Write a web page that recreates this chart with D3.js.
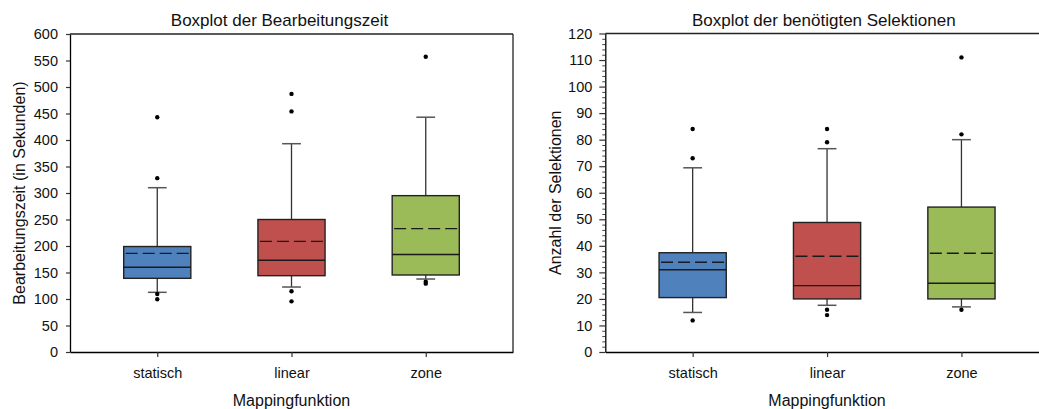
<!DOCTYPE html>
<html>
<head>
<meta charset="utf-8">
<script src="https://cdn.jsdelivr.net/npm/d3@7"></script>
<style>
  html, body { margin: 0; padding: 0; background: #fff; }
  svg { display: block; font-family: "Liberation Sans", Arial, sans-serif; }
</style>
</head>
<body>
<svg id="chart" width="1039" height="409"></svg>
<script>
// ---------- data ----------
const categories = ["statisch", "linear", "zone"];
const boxColors = ["#4F81BD", "#C0504D", "#9BBB59"];

// Chart 1: Bearbeitungszeit (seconds)
const timeWhiskerLow  = [112.6, 122.6, 137.7];
const timeQ1          = [139, 144, 145.3];
const timeMedian      = [160, 173, 184];
const timeMean        = [186, 208.8, 232.7];
const timeQ3          = [199, 250, 295];
const timeWhiskerHigh = [310, 393, 443];
const timeOutliers    = [[443, 328, 109.5, 99.5], [487, 454, 114.5, 95.6], [557, 132.7, 129]];
const timeTicks       = [0, 50, 100, 150, 200, 250, 300, 350, 400, 450, 500, 550, 600];

// Chart 2: benötigte Selektionen
const selWhiskerLow  = [14.9, 17.6, 17];
const selQ1          = [20.5, 20, 20];
const selMedian      = [31, 25, 25.9];
const selMean        = [33.8, 36.1, 37.2];
const selQ3          = [37.4, 48.8, 54.6];
const selWhiskerHigh = [69.4, 76.6, 80];
const selOutliers    = [[84, 73, 11.9], [84, 79, 15.9, 13.9], [111, 82, 15.9]];
const selTicks       = [0, 10, 20, 30, 40, 50, 60, 70, 80, 90, 100, 110, 120];

const svg = d3.select("#chart");

function drawBoxplot(cfg) {
  const g = svg.append("g");
  const x = d3.scaleLinear().domain([0.35, 3.65]).range([cfg.left, cfg.right]);
  const y = d3.scaleLinear().domain([0, cfg.ymax]).range([352, cfg.top]);
  const unit = x(2) - x(1);
  const boxW = 0.5 * unit;
  const capW = 0.14 * unit;

  // minor ticks
  if (cfg.minorStep) {
    const minor = d3.range(0, cfg.ymax + 0.001, cfg.minorStep).filter(v => v % cfg.majorStep !== 0);
    g.append("g")
      .attr("transform", `translate(${cfg.left},0)`)
      .call(d3.axisLeft(y).tickValues(minor).tickSize(3).tickFormat(""))
      .call(a => a.select(".domain").remove())
      .call(a => a.selectAll("line").attr("stroke", "#444").attr("stroke-width", 1));
  }

  // y axis
  g.append("g")
    .attr("transform", `translate(${cfg.left},0)`)
    .call(d3.axisLeft(y).tickValues(cfg.ticks).tickSize(cfg.tickSize).tickPadding(cfg.tickPad).tickSizeOuter(0))
    .call(a => a.select(".domain").attr("stroke", "#000").attr("stroke-width", 1.3))
    .call(a => a.selectAll(".tick line").attr("stroke", "#333").attr("stroke-width", 1.2))
    .call(a => a.selectAll("text").attr("font-size", "14.5px").attr("fill", "#111")
      .attr("font-family", "Liberation Sans, Arial, sans-serif"));

  // x axis
  g.append("g")
    .attr("transform", "translate(0,352)")
    .call(d3.axisBottom(x).tickValues([1, 2, 3]).tickFormat((d, i) => categories[i]).tickSize(5).tickSizeOuter(0))
    .call(a => a.select(".domain").attr("stroke", "#000").attr("stroke-width", 1.3))
    .call(a => a.selectAll(".tick line").attr("stroke", "#333").attr("stroke-width", 1.2))
    .call(a => a.selectAll("text").attr("dy", null).attr("y", 26).attr("font-size", "14.5px")
      .attr("fill", "#111").attr("font-family", "Liberation Sans, Arial, sans-serif"));

  // top / right frame
  g.append("line").attr("x1", cfg.left).attr("x2", cfg.right).attr("y1", cfg.top).attr("y2", cfg.top)
    .attr("stroke", "#222").attr("stroke-width", 1.3);
  g.append("line").attr("x1", cfg.right).attr("x2", cfg.right).attr("y1", cfg.top).attr("y2", 352)
    .attr("stroke", "#222").attr("stroke-width", 1.3);

  categories.forEach((c, i) => {
    const cx = x(i + 1);
    // whiskers
    g.append("line").attr("x1", cx).attr("x2", cx).attr("y1", y(cfg.q3[i])).attr("y2", y(cfg.wHigh[i]))
      .attr("stroke", "#333").attr("stroke-width", 1.3);
    g.append("line").attr("x1", cx).attr("x2", cx).attr("y1", y(cfg.q1[i])).attr("y2", y(cfg.wLow[i]))
      .attr("stroke", "#333").attr("stroke-width", 1.3);
    [cfg.wHigh[i], cfg.wLow[i]].forEach(v => {
      g.append("line").attr("x1", cx - capW / 2).attr("x2", cx + capW / 2).attr("y1", y(v)).attr("y2", y(v))
        .attr("stroke", "#555").attr("stroke-width", 1.5);
    });
    // box
    g.append("rect")
      .attr("x", cx - boxW / 2).attr("width", boxW)
      .attr("y", y(cfg.q3[i])).attr("height", y(cfg.q1[i]) - y(cfg.q3[i]))
      .attr("fill", boxColors[i]).attr("stroke", "#222").attr("stroke-width", 1.4);
    // median
    g.append("line").attr("x1", cx - boxW / 2).attr("x2", cx + boxW / 2)
      .attr("y1", y(cfg.median[i])).attr("y2", y(cfg.median[i]))
      .attr("stroke", "#1a1a1a").attr("stroke-width", 1.4);
    // mean
    g.append("line").attr("x1", cx - boxW / 2 + 2).attr("x2", cx + boxW / 2 - 2)
      .attr("y1", y(cfg.mean[i])).attr("y2", y(cfg.mean[i]))
      .attr("stroke", "#1a1a1a").attr("stroke-width", 1.4).attr("stroke-dasharray", "12,5");
    // outliers
    cfg.outliers[i].forEach(v => {
      g.append("circle").attr("cx", cx).attr("cy", y(v)).attr("r", 2.2).attr("fill", "#000");
    });
  });

  // titles
  g.append("text").attr("x", cfg.titleX).attr("y", 26).attr("text-anchor", "middle")
    .attr("font-size", "17px").attr("fill", "#111").text(cfg.title);
  g.append("text").attr("x", x(2)).attr("y", 406).attr("text-anchor", "middle")
    .attr("font-size", "16px").attr("fill", "#111").text("Mappingfunktion");
  g.append("text").attr("transform", `translate(${cfg.yTitleX},${(cfg.top + 352) / 2}) rotate(-90)`)
    .attr("text-anchor", "middle").attr("font-size", "16px").attr("fill", "#111").text(cfg.yTitle);
}

drawBoxplot({
  left: 70, right: 513, top: 34, ymax: 600, ticks: timeTicks, tickSize: 4, tickPad: 8,
  wLow: timeWhiskerLow, q1: timeQ1, median: timeMedian, mean: timeMean, q3: timeQ3,
  wHigh: timeWhiskerHigh, outliers: timeOutliers,
  title: "Boxplot der Bearbeitungszeit", titleX: 279.5,
  yTitle: "Bearbeitungszeit (in Sekunden)", yTitleX: 25
});

drawBoxplot({
  left: 605.3, right: 1048.8, top: 33.5, ymax: 120, ticks: selTicks, tickSize: 6, tickPad: 7,
  minorStep: 2, majorStep: 10,
  wLow: selWhiskerLow, q1: selQ1, median: selMedian, mean: selMean, q3: selQ3,
  wHigh: selWhiskerHigh, outliers: selOutliers,
  title: "Boxplot der benötigten Selektionen", titleX: 823.8,
  yTitle: "Anzahl der Selektionen", yTitleX: 560.5
});
</script>
</body>
</html>
